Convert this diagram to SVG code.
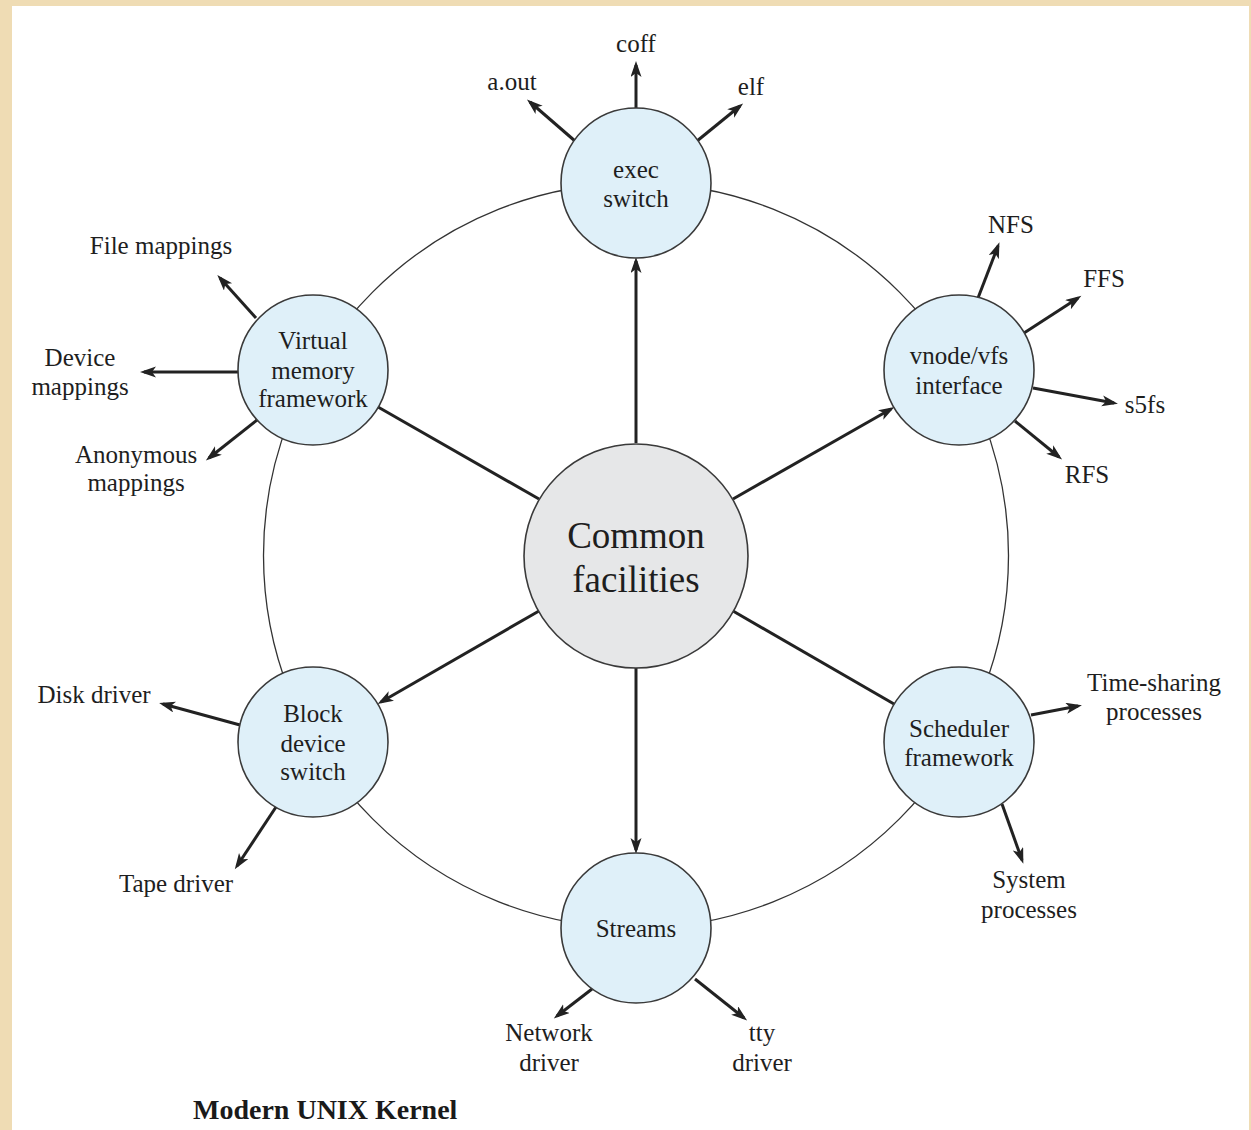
<svg xmlns="http://www.w3.org/2000/svg" width="1251" height="1130" viewBox="0 0 1251 1130">
<defs>
<marker id="ah" markerUnits="userSpaceOnUse" markerWidth="18" markerHeight="12" refX="12" refY="5.5" orient="auto">
<path d="M0,0 L16,5.5 L0,11 L4,5.5 z" fill="#222"/>
</marker>
</defs>
<style>
.t{font-family:"Liberation Serif","Times New Roman",serif;font-size:25px;fill:#1e1e1e;text-anchor:middle}
.c{font-size:37px}
.ttl{font-family:"Liberation Serif","Times New Roman",serif;font-size:28px;font-weight:bold;fill:#1a1a1a}
.n{fill:#dff0f9;stroke:#3a3a3a;stroke-width:1.6}
.cf{fill:#e6e7e8;stroke:#3a3a3a;stroke-width:1.6}
.ring{fill:none;stroke:#333;stroke-width:1.3}
.l{stroke:#222;stroke-width:3;fill:none}
.a{stroke:#222;stroke-width:3;fill:none;marker-end:url(#ah)}
</style>
<rect x="0" y="0" width="1251" height="1130" fill="#efdcb4"/>
<rect x="12" y="6" width="1237" height="1124" fill="#ffffff"/>
<circle class="ring" cx="636" cy="555.5" r="372.5"/>
<g id="connectors">
<line class="a" x1="636" y1="443" x2="636" y2="261"/>
<line class="a" x1="733" y1="499" x2="891" y2="409"/>
<line class="a" x1="539" y1="611" x2="381" y2="702"/>
<line class="a" x1="636" y1="668" x2="636" y2="850"/>
<line class="l" x1="539" y1="499" x2="378" y2="407"/>
<line class="l" x1="733" y1="611" x2="894" y2="704"/>
<line class="a" x1="575" y1="141" x2="530" y2="102"/>
<line class="a" x1="636" y1="108" x2="636" y2="65"/>
<line class="a" x1="697" y1="141" x2="740" y2="106"/>
<line class="a" x1="978" y1="298" x2="998" y2="246"/>
<line class="a" x1="1024" y1="333" x2="1078" y2="298"/>
<line class="a" x1="1033" y1="388" x2="1114" y2="403"/>
<line class="a" x1="1015" y1="421" x2="1059" y2="457"/>
<line class="a" x1="256" y1="318" x2="220" y2="278"/>
<line class="a" x1="238" y1="372" x2="144" y2="372"/>
<line class="a" x1="257" y1="420" x2="209" y2="458"/>
<line class="a" x1="240" y1="725" x2="163" y2="704"/>
<line class="a" x1="276" y1="807" x2="237" y2="866"/>
<line class="a" x1="1031" y1="715" x2="1078" y2="706"/>
<line class="a" x1="1002" y1="804" x2="1022" y2="860"/>
<line class="a" x1="592" y1="989" x2="557" y2="1016"/>
<line class="a" x1="695" y1="979" x2="744" y2="1018"/>
</g>
<g id="common">
<circle class="cf" cx="636" cy="556" r="112"/>
<text class="t c" x="636" y="548">Common</text>
<text class="t c" x="636" y="592">facilities</text>
</g>
<g id="exec">
<circle class="n" cx="636" cy="183" r="75"/>
<text class="t" x="636" y="178">exec</text>
<text class="t" x="636" y="207">switch</text>
</g>
<g id="vm">
<circle class="n" cx="313" cy="370" r="75"/>
<text class="t" x="313" y="349">Virtual</text>
<text class="t" x="313" y="379">memory</text>
<text class="t" x="313" y="407">framework</text>
</g>
<g id="vnode">
<circle class="n" cx="959" cy="370" r="75"/>
<text class="t" x="959" y="364">vnode/vfs</text>
<text class="t" x="959" y="394">interface</text>
</g>
<g id="block">
<circle class="n" cx="313" cy="742" r="75"/>
<text class="t" x="313" y="722">Block</text>
<text class="t" x="313" y="752">device</text>
<text class="t" x="313" y="780">switch</text>
</g>
<g id="scheduler">
<circle class="n" cx="959" cy="742" r="75"/>
<text class="t" x="959" y="737">Scheduler</text>
<text class="t" x="959" y="766">framework</text>
</g>
<g id="streams">
<circle class="n" cx="636" cy="928" r="75"/>
<text class="t" x="636" y="937">Streams</text>
</g>
<g id="labels">
<text class="t" x="636" y="52">coff</text>
<text class="t" x="512" y="90">a.out</text>
<text class="t" x="751" y="95">elf</text>
<text class="t" x="161" y="254">File mappings</text>
<text class="t" x="80" y="366">Device</text>
<text class="t" x="80" y="395">mappings</text>
<text class="t" x="136" y="463">Anonymous</text>
<text class="t" x="136" y="491">mappings</text>
<text class="t" x="1011" y="233">NFS</text>
<text class="t" x="1104" y="287">FFS</text>
<text class="t" x="1145" y="413">s5fs</text>
<text class="t" x="1087" y="483">RFS</text>
<text class="t" x="94" y="703">Disk driver</text>
<text class="t" x="176" y="892">Tape driver</text>
<text class="t" x="1154" y="691">Time-sharing</text>
<text class="t" x="1154" y="720">processes</text>
<text class="t" x="1029" y="888">System</text>
<text class="t" x="1029" y="918">processes</text>
<text class="t" x="549" y="1041">Network</text>
<text class="t" x="549" y="1071">driver</text>
<text class="t" x="762" y="1041">tty</text>
<text class="t" x="762" y="1071">driver</text>
<text class="ttl" x="193" y="1119">Modern UNIX Kernel</text>
</g>
</svg>
